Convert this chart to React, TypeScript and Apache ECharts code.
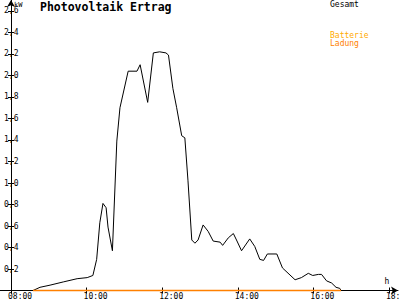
import React, { useEffect, useRef } from "react";
import * as echarts from "echarts";

const times = [
  "08:35", "08:46", "09:02", "09:23", "09:45", "10:01", "10:10", "10:16", "10:21", "10:26",
  "10:31", "10:34", "10:41", "10:48", "10:53", "11:06", "11:20", "11:25", "11:37", "11:46",
  "11:56", "12:06", "12:10", "12:17", "12:23", "12:31", "12:36", "12:41", "12:47", "12:52",
  "12:57", "13:05", "13:13", "13:21", "13:32", "13:36", "13:45", "13:53", "13:58", "14:06",
  "14:19", "14:27", "14:35", "14:41", "14:47", "15:02", "15:11", "15:31", "15:41", "15:52",
  "15:59", "16:08", "16:13", "16:21", "16:29", "16:36", "16:42", "16:44",
];
const gesamt = [
  0.0, 0.03, 0.05, 0.08, 0.11, 0.12, 0.14, 0.29, 0.63, 0.81,
  0.77, 0.59, 0.37, 1.39, 1.7, 2.04, 2.04, 2.1, 1.75, 2.21,
  2.22, 2.21, 2.19, 1.88, 1.7, 1.44, 1.42, 1.02, 0.47, 0.44,
  0.47, 0.61, 0.55, 0.46, 0.45, 0.42, 0.49, 0.53, 0.47, 0.37,
  0.48, 0.41, 0.29, 0.28, 0.34, 0.34, 0.21, 0.1, 0.12, 0.16,
  0.14, 0.15, 0.15, 0.09, 0.07, 0.03, 0.02, 0.0,
];
const ladungTimes = ["08:35", "16:44"];
const ladung = [0, 0];
const yTicks = [0.2, 0.4, 0.6, 0.8, 1.0, 1.2, 1.4, 1.6, 1.8, 2.0, 2.2, 2.4, 2.6];
const xTickLabels = ["08:00", "10:00", "12:00", "14:00", "16:00", "18:00"];

const MONO = "DejaVu Sans Mono";
const toH = (s: string) => {
  const [h, m] = s.split(":").map(Number);
  return h - 8 + m / 60;
};
const fmtH = (v: number) => {
  const h = Math.round(v + 8);
  return (h < 10 ? "0" : "") + h + ":00";
};

export default function App() {
  const ref = useRef<HTMLDivElement>(null);
  useEffect(() => {
    if (!ref.current) return;
    const chart = echarts.init(ref.current, null, { renderer: "svg" });
    const xTicks = xTickLabels.map(toH);
    const yMin = -0.023;
    const yMax = 2.702;
    const xMin = -0.291;
    const xMax = 10.24;
    chart.setOption({
      animation: false,
      backgroundColor: "#fff",
      title: {
        text: "Photovoltaik Ertrag",
        left: 40,
        top: 1,
        padding: 0,
        textStyle: { fontFamily: MONO, fontWeight: "bold", fontSize: 11.5, color: "#000" },
      },
      legend: {
        left: 325,
        top: 0,
        padding: 0,
        orient: "vertical",
        itemWidth: 0,
        itemHeight: 0,
        itemGap: 23,
        icon: "rect",
        selectedMode: false,
        data: [
          { name: "Gesamt", textStyle: { color: "#000" } },
          { name: "Batterie Ladung" },
        ],
        textStyle: {
          fontFamily: MONO,
          fontSize: 8,
          lineHeight: 8,
          color: "#000",
          rich: {
            a: { color: "#ffaa00", fontFamily: MONO, fontSize: 8, lineHeight: 8 },
            b: { color: "#ff8000", fontFamily: MONO, fontSize: 8, lineHeight: 8 },
          },
        },
        formatter: (name: string) => {
          if (name === "Batterie Ladung") return "{a|Batterie}\n{b|Ladung}";
          return name;
        },
      },
      grid: {
        left: 0,
        right: 2,
        top: 0,
        bottom: 7,
        containLabel: false,
        outerBoundsMode: "none",
      },
      xAxis: [
        {
          type: "value",
          min: xMin,
          max: xMax,
          position: "bottom",
          splitLine: { show: false },
          axisLine: {
            onZero: true,
            symbol: ["none", "arrow"],
            symbolSize: [6, 7],
            lineStyle: { color: "#000", width: 1 },
          },
          axisTick: { show: true, inside: false, length: 3, customValues: xTicks, lineStyle: { color: "#000" } },
          axisLabel: {
            customValues: xTicks,
            formatter: (v: number) => fmtH(v),
            fontFamily: MONO,
            fontSize: 8,
            lineHeight: 7,
            color: "#000",
            align: "left",
            padding: [0, 0, 0, -3],
            margin: 0,
            hideOverlap: false,
          },
          name: "h",
          nameLocation: "end",
          nameGap: -11,
          nameMoveOverlap: false,
          nameTextStyle: {
            fontFamily: MONO,
            fontSize: 8,
            color: "#000",
            align: "center",
            verticalAlign: "bottom",
            padding: [0, 0, 5, 0],
          },
        },
        {
          type: "value",
          min: xMin,
          max: xMax,
          position: "bottom",
          splitLine: { show: false },
          axisLine: { show: false, onZero: true },
          axisTick: { show: true, inside: true, length: 3, customValues: xTicks, lineStyle: { color: "#000" } },
          axisLabel: { show: false },
        },
      ],
      yAxis: [
        {
          type: "value",
          min: yMin,
          max: yMax,
          position: "left",
          splitLine: { show: false },
          axisLine: {
            onZero: true,
            symbol: ["none", "arrow"],
            symbolSize: [6, 7],
            lineStyle: { color: "#000", width: 1 },
          },
          axisTick: { show: true, inside: false, length: 3, customValues: yTicks, lineStyle: { color: "#000" } },
          axisLabel: {
            inside: true,
            customValues: yTicks,
            formatter: (v: number) => v.toFixed(1).replace(".", ","),
            fontFamily: MONO,
            fontSize: 8,
            color: "#000",
            margin: 4,
            hideOverlap: false,
          },
          name: "kW",
          nameLocation: "end",
          nameGap: 0,
          nameMoveOverlap: false,
          nameTextStyle: {
            fontFamily: MONO,
            fontSize: 7,
            color: "#000",
            align: "left",
            verticalAlign: "top",
            padding: [1, 0, 0, 3],
          },
        },
        {
          type: "value",
          min: yMin,
          max: yMax,
          position: "left",
          splitLine: { show: false },
          axisLine: { show: false, onZero: true },
          axisTick: { show: true, inside: true, length: 3, customValues: yTicks, lineStyle: { color: "#000" } },
          axisLabel: { show: false },
        },
      ],
      series: [
        {
          name: "Gesamt",
          type: "line",
          xAxisIndex: 0,
          yAxisIndex: 0,
          showSymbol: false,
          color: "#000",
          lineStyle: { color: "#000", width: 1 },
          data: times.map((t, i) => [toH(t), gesamt[i]]),
          z: 2,
        },
        {
          name: "Batterie Ladung",
          type: "line",
          xAxisIndex: 0,
          yAxisIndex: 0,
          showSymbol: false,
          color: "#ff8000",
          lineStyle: { color: "#ff8000", width: 1.5 },
          data: ladungTimes.map((t, i) => [toH(t), ladung[i]]),
          z: 3,
        },
      ],
    });
    return () => chart.dispose();
  }, []);
  return <div ref={ref} style={{ width: 400, height: 300, position: "fixed", left: 0, top: 0 }} />;
}
